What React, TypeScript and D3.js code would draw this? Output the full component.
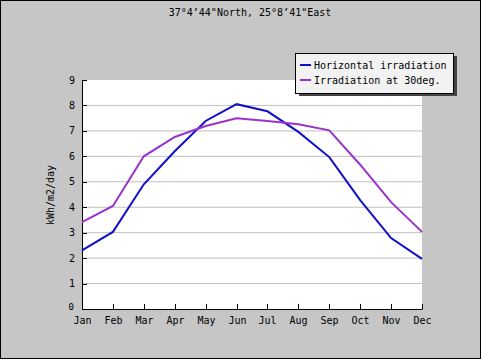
import * as d3 from "d3";

const months = ["Jan", "Feb", "Mar", "Apr", "May", "Jun", "Jul", "Aug", "Sep", "Oct", "Nov", "Dec"];
const horizontal = [2.3, 3.03, 4.9, 6.2, 7.39, 8.05, 7.77, 6.96, 5.97, 4.28, 2.79, 1.97];
const tilted = [3.41, 4.05, 6.0, 6.76, 7.19, 7.5, 7.39, 7.26, 7.02, 5.67, 4.2, 3.03];
const yTicks = [0, 1, 2, 3, 4, 5, 6, 7, 8, 9];
const title = "37°4’44\"North, 25°8’41\"East";
const seriesNames = ["Horizontal irradiation", "Irradiation at 30deg."];
const colors = ["#1010c8", "#9933cc"];

const W = 481;
const H = 359;
const font = "'DejaVu Sans Mono', monospace";

export default function App() {
  const x = d3.scalePoint<string>().domain(months).range([82, 422]);
  const y = d3.scaleLinear().domain([0, 9]).range([309, 80]);
  const line = d3
    .line<number>()
    .x((_, i) => x(months[i]) as number)
    .y((d) => y(d));

  return (
    <svg
      width={W}
      height={H}
      style={{ position: "absolute", left: 0, top: 0, background: "#c6c6c6" }}
      fontFamily={font}
    >
      <rect x={0.5} y={0.5} width={W - 1} height={H - 1} fill="#c6c6c6" stroke="#000" />
      <text x={250} y={16} textAnchor="middle" fontSize={10} fill="#000">
        {title}
      </text>

      {/* plot area */}
      <rect x={82} y={80} width={340} height={229} fill="#fff" />
      {yTicks.slice(1, -1).map((t) => (
        <line key={t} x1={82} x2={422} y1={y(t)} y2={y(t)} stroke="#c0c0c0" />
      ))}

      {/* axes */}
      <line x1={82.5} x2={82.5} y1={80} y2={309.5} stroke="#000" />
      <line x1={82} x2={422.5} y1={309.5} y2={309.5} stroke="#000" />
      {yTicks.map((t) => (
        <g key={t}>
          <line x1={82} x2={87} y1={Math.round(y(t)) + 0.5} y2={Math.round(y(t)) + 0.5} stroke="#000" />
          <text x={t === 0 ? 74 : 75} y={y(t) + (t === 0 ? 1 : 3.5)} textAnchor="end" fontSize={t === 0 ? 9 : 10}>
            {t}
          </text>
        </g>
      ))}
      {months.map((m) => {
        const px = Math.round(x(m) as number) + 0.5;
        return (
          <g key={m}>
            <line x1={px} x2={px} y1={304} y2={309} stroke="#000" />
            <text x={px} y={324} textAnchor="middle" fontSize={10}>
              {m}
            </text>
          </g>
        );
      })}
      <text
        transform={`translate(54,195) rotate(-90)`}
        textAnchor="middle"
        fontSize={10}
      >
        kWh/m2/day
      </text>

      {/* series */}
      {[horizontal, tilted].map((s, i) => (
        <path key={i} d={line(s) ?? ""} fill="none" stroke={colors[i]} strokeWidth={2} />
      ))}

      {/* legend */}
      <rect x={299} y={56} width={158} height={40} fill="#444" />
      <rect x={295.5} y={53.5} width={158} height={40} fill="#f2f2f2" stroke="#000" />
      {seriesNames.map((n, i) => (
        <g key={n}>
          <line x1={300} x2={311} y1={65 + i * 15} y2={65 + i * 15} stroke={colors[i]} strokeWidth={2} />
          <text x={314} y={69 + i * 15} fontSize={10}>
            {n}
          </text>
        </g>
      ))}
    </svg>
  );
}
